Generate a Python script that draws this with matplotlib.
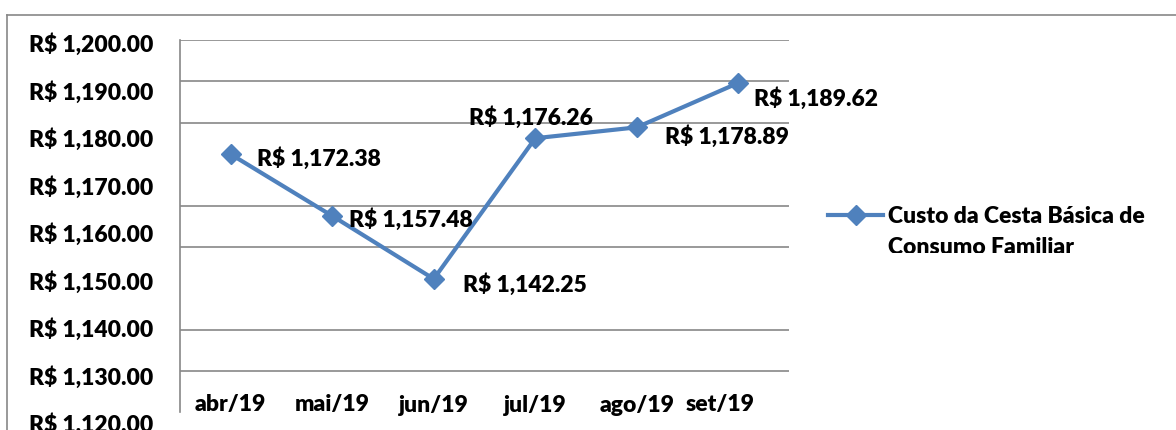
import numpy as np
import matplotlib
matplotlib.use("Agg")
import matplotlib.pyplot as plt
from matplotlib.lines import Line2D
from matplotlib.transforms import Bbox, blended_transform_factory

months = ["abr/19", "mai/19", "jun/19", "jul/19", "ago/19", "set/19"]
custo = [1172.38, 1157.48, 1142.25, 1176.26, 1178.89, 1189.62]
y_ticks = [1200, 1190, 1180, 1170, 1160, 1150, 1140, 1130, 1120]
grid_levels = [1200, 1190, 1180, 1160, 1150, 1130, 1120]
series_name = "Custo da Cesta Básica de\nConsumo Familiar"

# offsets of the value labels (points) and alignment, as seen on the chart
label_offsets = [(19, -3, "left"), (12, -3, "left"), (21, -4, "left"),
                 (-3, 15, "center"), (20, -7, "left"), (11, -11, "left")]
# month label shifts (points) - the last one is pulled left in the source
month_shift = [0, 0, 0, 0, 0, -13]

W, H = 1176, 430
blue = "#4F81BD"
grey = "#888888"
font = "Lato"
fs = 16.5
fw = "heavy"

plt.rcParams["font.family"] = [font, "DejaVu Sans"]

fig = plt.figure(figsize=(W / 100, H / 100), dpi=100)

def fx(px):
    return px / W

def fy(py):
    return 1 - py / H

# chart border (only top and left are visible in the crop)
fig.add_artist(Line2D([fx(7), fx(7)], [fy(14.5), fy(430)], color=grey, lw=1.2))
fig.add_artist(Line2D([fx(7), fx(1176)], [fy(14.5), fy(14.5)], color=grey, lw=1.2))

top_px, axis_px, bottom_px = 40, 371, 412
ax = fig.add_axes([fx(180), fy(bottom_px), fx(789 - 180), (bottom_px - top_px) / H])
per_unit = (axis_px - top_px) / 80.0
ax.set_ylim(1200 - (bottom_px - top_px) / per_unit, 1200)
ax.set_xlim(-0.5, len(months) - 0.5)

for s in ["top", "right", "bottom"]:
    ax.spines[s].set_visible(False)
ax.spines["left"].set_color(grey)
ax.spines["left"].set_linewidth(1.2)
ax.set_xticks([])
ax.set_yticks([])

for lv in grid_levels:
    ax.axhline(lv, color=grey, lw=1.2, zorder=1)

x = np.arange(len(months))
ax.plot(x, custo, color=blue, lw=3, marker="D", markersize=10, zorder=3)

for i, v in enumerate(custo):
    dx, dy, ha = label_offsets[i]
    txt = "R$ {:,.2f}".format(v)
    ax.annotate(txt, (x[i], v), xytext=(dx, dy), textcoords="offset points",
                ha=ha, va="center", fontsize=fs, fontweight=fw, zorder=4)

# month labels sit just above the bottom of the plot area
trans = blended_transform_factory(ax.transData, ax.transAxes)
for i, m in enumerate(months):
    ax.annotate(m, (x[i], (bottom_px - 405) / (bottom_px - top_px)), xycoords=trans,
                xytext=(month_shift[i], 0), textcoords="offset points",
                ha="center", va="center", fontsize=fs, fontweight=fw)

# y labels are spread wider than the grid, as in the source image
for i, t in enumerate(y_ticks):
    fig.text(fx(153), fy(45 + i * 47.5), "R$ {:,.2f}".format(t),
             ha="right", va="center", fontsize=fs, fontweight=fw)

# legend, second line clipped by the legend box
fig.add_artist(Line2D([fx(828), fx(883)], [fy(215), fy(215)], color=blue, lw=3))
fig.add_artist(Line2D([fx(856)], [fy(215)], color=blue, marker="D", markersize=10))
leg_txt = fig.text(fx(888), fy(206), series_name, ha="left", va="top",
                   fontsize=fs, fontweight=fw, linespacing=1.56)
leg_txt.set_clip_box(Bbox.from_extents(0, H - 253, W, H))
leg_txt.set_clip_on(True)

fig.savefig("out.png", dpi=100)
